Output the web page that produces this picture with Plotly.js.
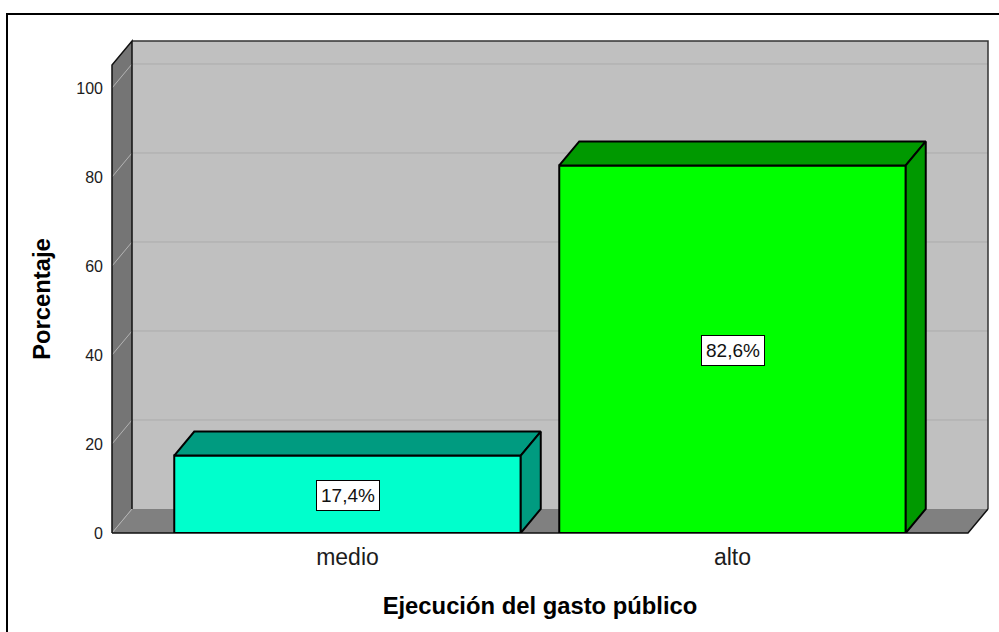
<!DOCTYPE html>
<html>
<head>
<meta charset="utf-8">
<script src="https://cdn.plot.ly/plotly-3.0.1.min.js"></script>
<style>
html,body{margin:0;padding:0;background:#fff;overflow:hidden}
#chart{position:absolute;left:0;top:0;width:999px;height:632px}
#frame{position:absolute;left:6px;top:13px;width:993px;height:619px;border-top:2px solid #000;border-left:2px solid #000;box-sizing:border-box;pointer-events:none}
</style>
</head>
<body>
<div id="chart"></div>
<div id="frame"></div>
<script>
const categories = ["medio", "alto"];
const percentages = [17.4, 82.6];
const barLabels = ["17,4%", "82,6%"];
const frontColors = ["#00ffcc", "#00ff00"];
const sideColors = ["#009b80", "#009900"];
const yTicks = [0, 20, 40, 60, 80, 100];
const xAxisTitle = "Ejecución del gasto público";
const yAxisTitle = "Porcentaje";

const W = 999, H = 632;
const M = {l:112, r:31, t:65, b:99};
const plotW = W - M.l - M.r, plotH = H - M.t - M.b;
const xRange = [-0.6117, 1.6117];
const yRange = [0, 105.17];
const barWidth = 0.9;
const depthPx = {x:20, y:24};
const dxPaper = depthPx.x / plotW, dyPaper = depthPx.y / plotH;
const dxData = dxPaper * (xRange[1]-xRange[0]);
const dyData = dyPaper * (yRange[1]-yRange[0]);
const FONT = "Liberation Sans, Arial, sans-serif";
const INK = "#1c1c1c";

const xIdx = categories.map((_, i) => i);

function path(pts, close){
  return "M" + pts.map(p => p[0] + "," + p[1]).join("L") + (close ? "Z" : "");
}
function poly(pts, fill){
  return {type:"path", xref:"paper", yref:"paper", layer:"below", path:path(pts,true),
          fillcolor:fill, line:{width:0}};
}
function stroke(pts, color, width){
  return {type:"path", xref:"paper", yref:"paper", layer:"below", path:path(pts,false),
          line:{color:color, width:width}};
}

const shapes = [];
shapes.push(poly([[dxPaper,dyPaper],[1+dxPaper,dyPaper],[1+dxPaper,1+dyPaper],[dxPaper,1+dyPaper]], "#c0c0c0"));
shapes.push(poly([[0,0],[dxPaper,dyPaper],[dxPaper,1+dyPaper],[0,1]], "#757575"));
shapes.push(poly([[0,0],[1,0],[1+dxPaper,dyPaper],[dxPaper,dyPaper]], "#808080"));
yTicks.forEach(v => {
  const yp = v / yRange[1];
  shapes.push(stroke([[0,yp],[dxPaper,yp+dyPaper]], "#b4b4b4", 1));
  if (v > 0) shapes.push(stroke([[dxPaper,yp+dyPaper],[1+dxPaper,yp+dyPaper]], "#ababab", 1));
});
shapes.push(stroke([[dxPaper,1+dyPaper],[1+dxPaper,1+dyPaper],[1+dxPaper,dyPaper]], "#333333", 1.5));
shapes.push(stroke([[0,0],[0,1],[dxPaper,1+dyPaper],[dxPaper,dyPaper]], "#111111", 1.5));
shapes.push(stroke([[0,0],[1,0],[1+dxPaper,dyPaper]], "#111111", 1.5));

const traces = [];
traces.push({
  type:"bar", x:xIdx, y:percentages, width:barWidth,
  marker:{color:frontColors, line:{color:"#000", width:2}},
  hoverinfo:"skip", showlegend:false
});
xIdx.forEach((c, i) => {
  const L = c - barWidth/2, R = c + barWidth/2, v = percentages[i];
  traces.push({
    type:"scatter", mode:"lines", fill:"toself", fillcolor:sideColors[i],
    x:[L, R, R+dxData, L+dxData, L],
    y:[v, v, v+dyData, v+dyData, v],
    line:{color:"#000", width:2}, hoverinfo:"skip", showlegend:false
  });
  traces.push({
    type:"scatter", mode:"lines", fill:"toself", fillcolor:sideColors[i],
    x:[R, R+dxData, R+dxData, R, R],
    y:[0, dyData, v+dyData, v, 0],
    line:{color:"#000", width:2}, hoverinfo:"skip", showlegend:false
  });
});

const annotations = xIdx.map((c, i) => ({
  x:c, y:percentages[i]/2 - 0.25, xref:"x", yref:"y", text:barLabels[i], showarrow:false,
  xanchor:"center", yanchor:"middle",
  font:{family:FONT, size:19, color:"#111"},
  bgcolor:"#fff", bordercolor:"#000", borderwidth:1, borderpad:4
}));

const layout = {
  width:W, height:H,
  margin:{l:M.l, r:M.r, t:M.t, b:M.b, pad:0},
  paper_bgcolor:"#fff", plot_bgcolor:"rgba(0,0,0,0)",
  showlegend:false,
  xaxis:{
    range:xRange, tickmode:"array", tickvals:xIdx, ticktext:categories,
    showgrid:false, zeroline:false, showline:false, ticks:"", ticklabelstandoff:8,
    tickfont:{family:FONT, size:23, color:INK},
    title:{text:xAxisTitle, standoff:28, font:{family:FONT, size:23.8, color:"#000", weight:"bold"}},
    fixedrange:true, automargin:false
  },
  yaxis:{
    range:yRange, tickmode:"array", tickvals:yTicks,
    showgrid:false, zeroline:false, showline:false, ticks:"", ticklabelstandoff:8,
    tickfont:{family:FONT, size:16, color:INK},
    title:{text:yAxisTitle, standoff:18, font:{family:FONT, size:23.8, color:"#000", weight:"bold"}},
    fixedrange:true, automargin:false
  },
  shapes:shapes,
  annotations:annotations
};

Plotly.newPlot("chart", traces, layout, {displayModeBar:false, staticPlot:true});
</script>
</body>
</html>
